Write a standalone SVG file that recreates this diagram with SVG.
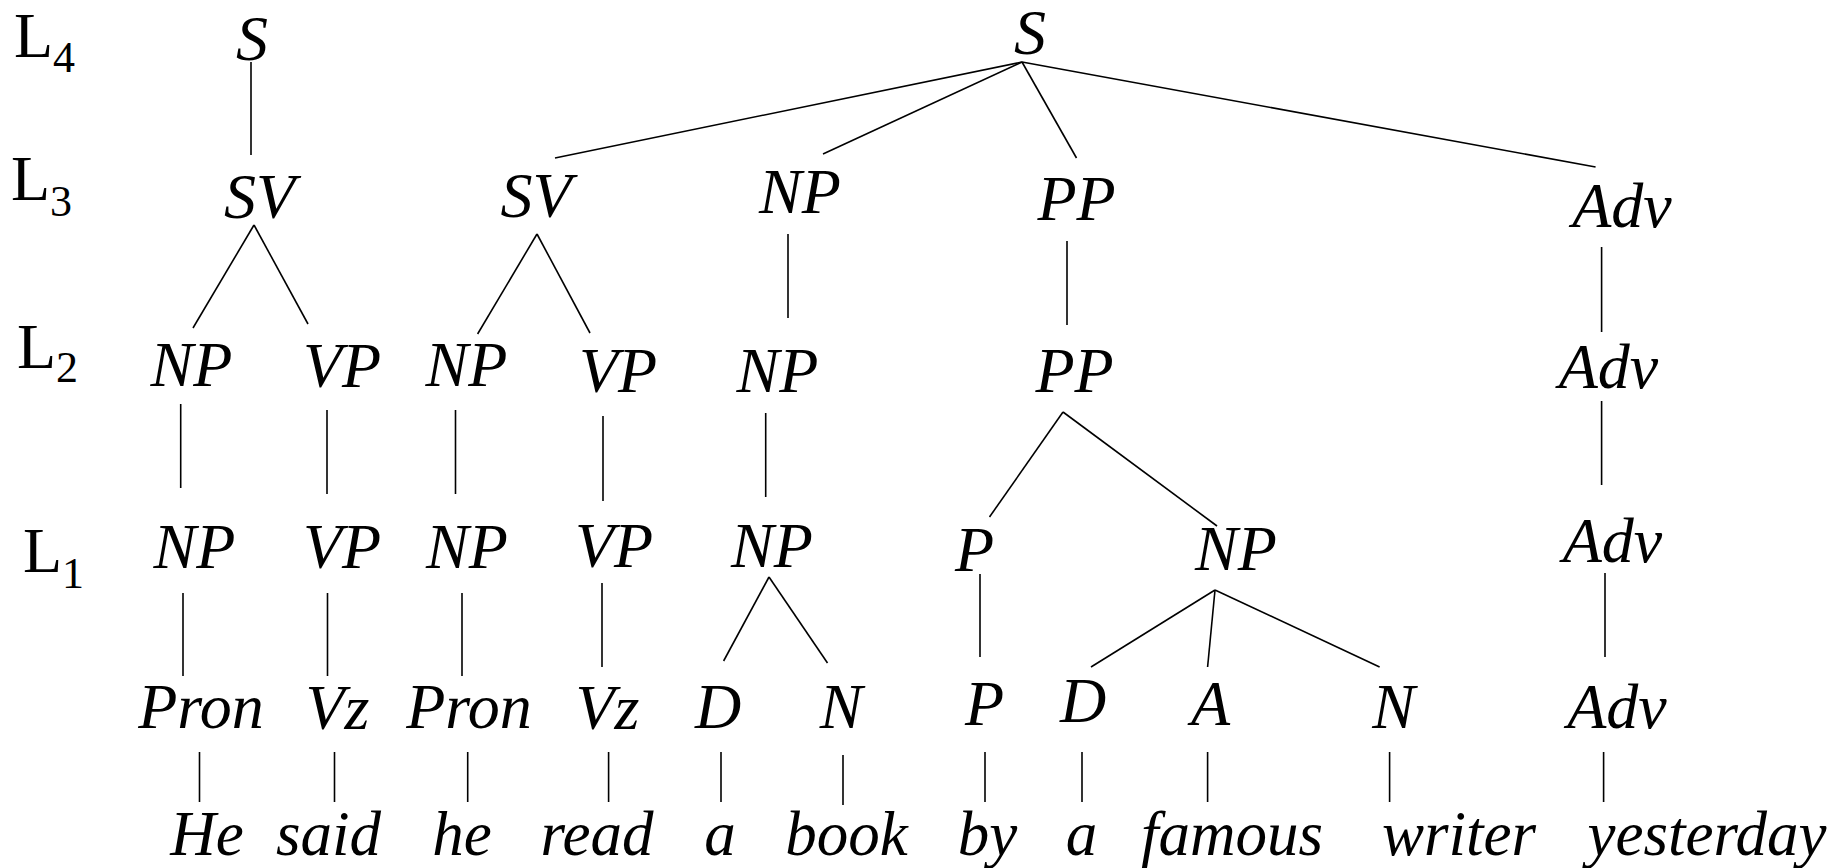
<svg xmlns="http://www.w3.org/2000/svg" width="1844" height="868" viewBox="0 0 1844 868">
<style>
.lv{font-family:"Liberation Serif","Times New Roman",serif;font-size:64px;fill:#000}
.sb{font-size:44px}
.n{font-family:"Liberation Serif","Times New Roman",serif;font-style:italic;font-size:64px;fill:#000;text-anchor:middle}
.w{font-family:"Liberation Serif","Times New Roman",serif;font-style:italic;font-size:63px;fill:#000;text-anchor:middle}
.e line{stroke:#000;stroke-width:1.6;fill:none}
</style>
<rect width="1844" height="868" fill="#fff"/>
<g id="levels">
<text class="lv" x="14" y="57">L<tspan class="sb" dy="15">4</tspan></text>
<text class="lv" x="11" y="200">L<tspan class="sb" dy="16">3</tspan></text>
<text class="lv" x="17" y="368">L<tspan class="sb" dy="14">2</tspan></text>
<text class="lv" x="23" y="572">L<tspan class="sb" dy="16">1</tspan></text>
</g>
<g id="connectors" class="e">
<line x1="251" y1="62" x2="251" y2="155"/>
<line x1="1022" y1="62" x2="555" y2="158"/>
<line x1="1022" y1="62" x2="823" y2="154"/>
<line x1="1022" y1="62" x2="1076.5" y2="158"/>
<line x1="1022" y1="62" x2="1595.6" y2="167"/>
<line x1="254" y1="225" x2="193" y2="328"/>
<line x1="254" y1="225" x2="308" y2="324"/>
<line x1="537" y1="234" x2="477.6" y2="334"/>
<line x1="537" y1="234" x2="590" y2="333"/>
<line x1="788" y1="234" x2="788" y2="318"/>
<line x1="1067" y1="241" x2="1067" y2="325"/>
<line x1="1601.6" y1="247" x2="1601.6" y2="332"/>
<line x1="180.7" y1="404" x2="180.7" y2="488"/>
<line x1="327" y1="410" x2="327" y2="494"/>
<line x1="455.5" y1="410" x2="455.5" y2="494"/>
<line x1="603" y1="416" x2="603" y2="501"/>
<line x1="765.7" y1="413" x2="765.7" y2="497"/>
<line x1="1601.6" y1="401" x2="1601.6" y2="485"/>
<line x1="1063" y1="412" x2="989.5" y2="517"/>
<line x1="1063" y1="412" x2="1217" y2="526"/>
<line x1="183" y1="593" x2="183" y2="676"/>
<line x1="327.5" y1="593" x2="327.5" y2="676"/>
<line x1="462" y1="593" x2="462" y2="676"/>
<line x1="602" y1="583" x2="602" y2="667"/>
<line x1="769" y1="577" x2="723.6" y2="661"/>
<line x1="769" y1="577" x2="827.5" y2="663"/>
<line x1="980" y1="574" x2="980" y2="657"/>
<line x1="1215" y1="590" x2="1091" y2="667"/>
<line x1="1215" y1="590" x2="1207.6" y2="667"/>
<line x1="1215" y1="590" x2="1379.6" y2="667"/>
<line x1="1605" y1="573" x2="1605" y2="657"/>
<line x1="199.5" y1="752" x2="199.5" y2="802"/>
<line x1="334.5" y1="752" x2="334.5" y2="802"/>
<line x1="467.7" y1="752" x2="467.7" y2="802"/>
<line x1="608.6" y1="752" x2="608.6" y2="802"/>
<line x1="721" y1="752" x2="721" y2="802"/>
<line x1="843" y1="755" x2="843" y2="805"/>
<line x1="985" y1="752" x2="985" y2="802"/>
<line x1="1082" y1="752" x2="1082" y2="802"/>
<line x1="1207.6" y1="752" x2="1207.6" y2="802"/>
<line x1="1389.6" y1="752" x2="1389.6" y2="802"/>
<line x1="1603.6" y1="752" x2="1603.6" y2="802"/>
</g>
<g id="n-S1"><text class="n" x="252" y="60">S</text></g>
<g id="n-S2"><text class="n" x="1030" y="54">S</text></g>
<g id="n-SV1"><text class="n" x="259.5" y="218">SV</text></g>
<g id="n-SV2"><text class="n" x="536" y="217">SV</text></g>
<g id="n-NP3"><text class="n" x="800" y="213">NP</text></g>
<g id="n-PP3"><text class="n" x="1076.5" y="220">PP</text></g>
<g id="n-Adv3"><text class="n" x="1622" y="227">Adv</text></g>
<g id="n-NP2a"><text class="n" x="191.5" y="386">NP</text></g>
<g id="n-VP2a"><text class="n" x="342" y="387">VP</text></g>
<g id="n-NP2b"><text class="n" x="466.5" y="386">NP</text></g>
<g id="n-VP2b"><text class="n" x="618" y="392">VP</text></g>
<g id="n-NP2c"><text class="n" x="777.5" y="392">NP</text></g>
<g id="n-PP2"><text class="n" x="1074.5" y="392">PP</text></g>
<g id="n-Adv2"><text class="n" x="1608.5" y="388">Adv</text></g>
<g id="n-NP1a"><text class="n" x="194.5" y="568">NP</text></g>
<g id="n-VP1a"><text class="n" x="342" y="568">VP</text></g>
<g id="n-NP1b"><text class="n" x="467" y="568">NP</text></g>
<g id="n-VP1b"><text class="n" x="614" y="567">VP</text></g>
<g id="n-NP1c"><text class="n" x="772" y="567">NP</text></g>
<g id="n-P1"><text class="n" x="974.5" y="571">P</text></g>
<g id="n-NP1d"><text class="n" x="1236" y="570">NP</text></g>
<g id="n-Adv1"><text class="n" x="1612.5" y="562">Adv</text></g>
<g id="n-Pron1"><text class="n" x="201" y="728">Pron</text></g>
<g id="n-Vz1"><text class="n" x="337.5" y="729">Vz</text></g>
<g id="n-Pron2"><text class="n" x="469" y="728">Pron</text></g>
<g id="n-Vz2"><text class="n" x="607.5" y="729">Vz</text></g>
<g id="n-D1"><text class="n" x="718" y="728">D</text></g>
<g id="n-N1"><text class="n" x="841" y="728">N</text></g>
<g id="n-P0"><text class="n" x="984.5" y="725">P</text></g>
<g id="n-D2"><text class="n" x="1083" y="722">D</text></g>
<g id="n-A"><text class="n" x="1210.5" y="725">A</text></g>
<g id="n-N2"><text class="n" x="1393.5" y="728">N</text></g>
<g id="n-Adv0"><text class="n" x="1617" y="728">Adv</text></g>
<g id="words">
<text class="w" x="207" y="855">He</text>
<text class="w" x="328.5" y="855">said</text>
<text class="w" x="462" y="855">he</text>
<text class="w" x="597" y="855">read</text>
<text class="w" x="720" y="855">a</text>
<text class="w" x="846.5" y="855">book</text>
<text class="w" x="987.5" y="855">by</text>
<text class="w" x="1081.5" y="855">a</text>
<text class="w" x="1232" y="855">famous</text>
<text class="w" x="1459" y="855">writer</text>
<text class="w" x="1707" y="855">yesterday</text>
</g>
</svg>
